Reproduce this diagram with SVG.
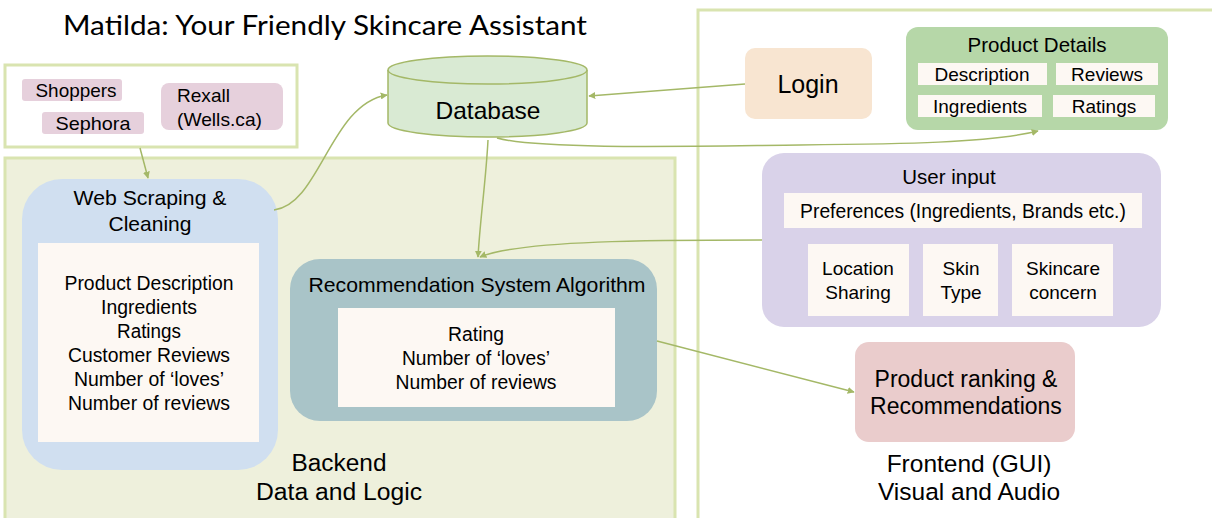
<svg xmlns="http://www.w3.org/2000/svg" width="1212" height="518" viewBox="0 0 1212 518">
<defs>
<style>
text{font-family:"Liberation Sans",Arial,sans-serif;fill:#000;text-anchor:middle}
.panel{stroke:#d9e4b0;stroke-width:3}
.chip{fill:#fdf8f3}
.con{fill:none;stroke:#a4b867;stroke-width:1.5;marker-end:url(#ah)}
</style>
<marker id="ah" viewBox="0 0 10 10" refX="9" refY="5" markerWidth="7" markerHeight="7" orient="auto" markerUnits="userSpaceOnUse">
<path d="M0,0 L10,5 L0,10 z" fill="#a4b867"/>
</marker>
</defs>
<rect width="1212" height="518" fill="#fff"/>
<text x="325" y="35" font-size="26" textLength="524" lengthAdjust="spacingAndGlyphs" style="font-family:Lato,'Open Sans',sans-serif">Matilda: Your Friendly Skincare Assistant</text>

<g id="backend">
<rect class="panel" x="5" y="158" width="670" height="362" fill="#eef0dc"/>
<text x="339" y="471" font-size="23" textLength="95" lengthAdjust="spacingAndGlyphs">Backend</text>
<text x="339" y="500" font-size="23" textLength="166" lengthAdjust="spacingAndGlyphs">Data and Logic</text>
</g>
<g id="frontend">
<rect class="panel" x="698" y="10" width="520" height="512" fill="#fff"/>
<text x="969" y="472" font-size="24.5">Frontend (GUI)</text>
<text x="969" y="500" font-size="24.5">Visual and Audio</text>
</g>

<g id="sources">
<rect class="panel" x="5" y="65" width="292" height="82" fill="#fff"/>
<rect x="22" y="79" width="100" height="22" rx="3" fill="#e6d0dc"/>
<text x="76" y="97" font-size="19" textLength="81" lengthAdjust="spacingAndGlyphs">Shoppers</text>
<rect x="42" y="112" width="102" height="22" rx="3" fill="#e6d0dc"/>
<text x="93" y="130" font-size="19" textLength="75" lengthAdjust="spacingAndGlyphs">Sephora</text>
<rect x="161" y="83" width="122" height="47" rx="8" fill="#e6d0dc"/>
<text x="177" y="102" font-size="19" textLength="53" lengthAdjust="spacingAndGlyphs" style="text-anchor:start">Rexall</text>
<text x="177" y="126" font-size="19" textLength="85" lengthAdjust="spacingAndGlyphs" style="text-anchor:start">(Wells.ca)</text>
</g>

<g id="database">
<path d="M388,70 L388,123 A99.5,14 0 0 0 587,123 L587,70" fill="#d9ead3" stroke="#a4b867" stroke-width="1.5"/>
<ellipse cx="487.5" cy="70" rx="99.5" ry="14" fill="#d9ead3" stroke="#a4b867" stroke-width="1.5"/>
<text x="488" y="119" font-size="24" textLength="105" lengthAdjust="spacingAndGlyphs">Database</text>
</g>

<g id="login">
<rect x="745" y="48" width="127" height="71" rx="10" fill="#f8e5d1"/>
<text x="808" y="93" font-size="25">Login</text>
</g>

<g id="product-details">
<rect x="906" y="27" width="262" height="103" rx="12" fill="#b6d7a8"/>
<text x="1037" y="52" font-size="20.5">Product Details</text>
<rect class="chip" x="918" y="63" width="129" height="22"/>
<text x="982" y="81" font-size="19">Description</text>
<rect class="chip" x="1056" y="63" width="102" height="22"/>
<text x="1107" y="81" font-size="19">Reviews</text>
<rect class="chip" x="918" y="95" width="124" height="22"/>
<text x="980" y="113" font-size="19">Ingredients</text>
<rect class="chip" x="1053" y="95" width="102" height="22"/>
<text x="1104" y="113" font-size="19">Ratings</text>
</g>

<g id="user-input">
<rect x="762" y="153" width="399" height="174" rx="22" fill="#d9d2e9"/>
<text x="949" y="184" font-size="20.5">User input</text>
<rect class="chip" x="784" y="193" width="358" height="35"/>
<text x="963" y="218" font-size="19.3">Preferences (Ingredients, Brands etc.)</text>
<rect class="chip" x="808" y="244" width="101" height="72"/>
<text x="858" y="275" font-size="19">Location</text>
<text x="858" y="299" font-size="19">Sharing</text>
<rect class="chip" x="923" y="244" width="75" height="72"/>
<text x="961" y="275" font-size="19">Skin</text>
<text x="961" y="299" font-size="19">Type</text>
<rect class="chip" x="1012" y="244" width="101" height="72"/>
<text x="1063" y="275" font-size="19">Skincare</text>
<text x="1063" y="299" font-size="19">concern</text>
</g>

<g id="ranking">
<rect x="855" y="342" width="220" height="100" rx="14" fill="#eacccc"/>
<text x="966" y="387" font-size="23">Product ranking &amp;</text>
<text x="966" y="414" font-size="23">Recommendations</text>
</g>

<g id="web-scraping">
<rect x="22" y="179" width="256" height="291" rx="40" fill="#d0dff0"/>
<text x="150" y="205" font-size="21" textLength="153" lengthAdjust="spacingAndGlyphs">Web Scraping &amp;</text>
<text x="150" y="231" font-size="21" textLength="83" lengthAdjust="spacingAndGlyphs">Cleaning</text>
<rect class="chip" x="38" y="243" width="221" height="199"/>
<text x="149" y="290" font-size="19.5" textLength="169" lengthAdjust="spacingAndGlyphs">Product Description</text>
<text x="149" y="314" font-size="19.5" textLength="96" lengthAdjust="spacingAndGlyphs">Ingredients</text>
<text x="149" y="338" font-size="19.5" textLength="64" lengthAdjust="spacingAndGlyphs">Ratings</text>
<text x="149" y="362" font-size="19.5" textLength="162" lengthAdjust="spacingAndGlyphs">Customer Reviews</text>
<text x="149" y="386" font-size="19.5" textLength="150" lengthAdjust="spacingAndGlyphs">Number of ‘loves’</text>
<text x="149" y="410" font-size="19.5" textLength="162" lengthAdjust="spacingAndGlyphs">Number of reviews</text>
</g>

<g id="recommendation">
<rect x="290" y="259" width="367" height="162" rx="30" fill="#a9c4c8"/>
<text x="477" y="292" font-size="21" textLength="337" lengthAdjust="spacingAndGlyphs">Recommendation System Algorithm</text>
<rect class="chip" x="338" y="308" width="277" height="99"/>
<text x="476" y="341" font-size="19.5" textLength="56" lengthAdjust="spacingAndGlyphs">Rating</text>
<text x="476" y="365" font-size="19.5" textLength="148" lengthAdjust="spacingAndGlyphs">Number of ‘loves’</text>
<text x="476" y="389" font-size="19.5" textLength="161" lengthAdjust="spacingAndGlyphs">Number of reviews</text>
</g>

<g id="connectors">
<path class="con" d="M140,148 L148,178"/>
<path class="con" d="M274,210 C320,205 330,104 387,95"/>
<path class="con" d="M745,84 L589,96"/>
<path class="con" d="M497,138 C540,150 700,146 800,145 C900,144 990,143 1038,131"/>
<path class="con" d="M488,140 C486,180 480,220 478,257"/>
<path class="con" d="M762,240 C660,240 520,240 480,257"/>
<path class="con" d="M657,341 L854,392"/>
</g>
</svg>
